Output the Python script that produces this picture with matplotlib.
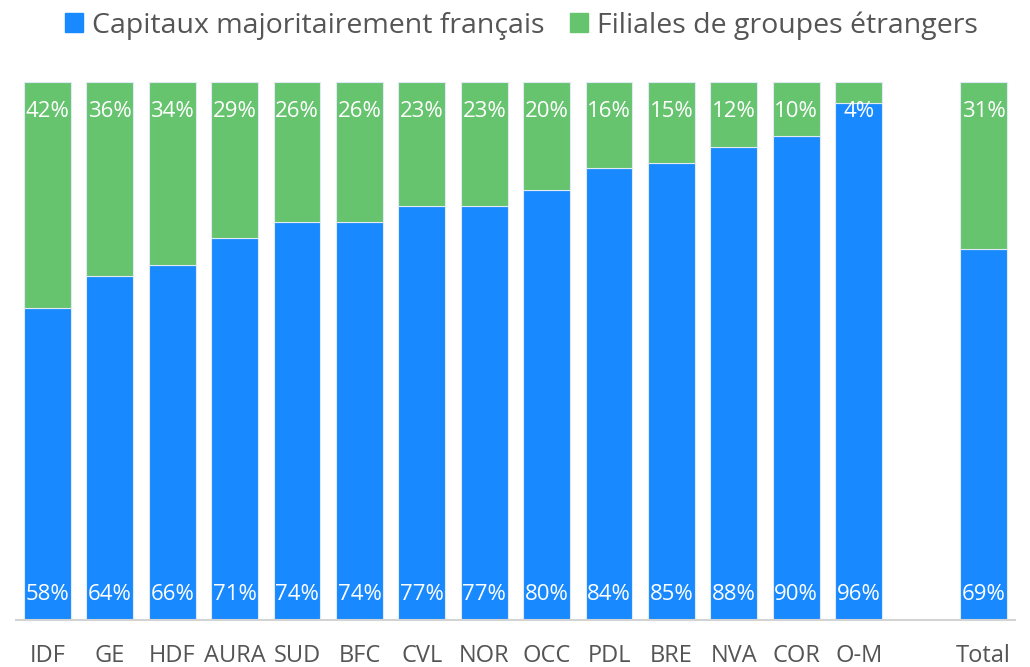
import numpy as np
import matplotlib
matplotlib.use("Agg")
import matplotlib.pyplot as plt
from matplotlib.patches import Patch

plt.rcParams['font.family'] = ['Open Sans', 'DejaVu Sans']

# Data (percent); the empty slot separates the regions from the total
categories = ['IDF', 'GE', 'HDF', 'AURA', 'SUD', 'BFC', 'CVL', 'NOR', 'OCC',
              'PDL', 'BRE', 'NVA', 'COR', 'O-M', '', 'Total']
francais = [58, 64, 66, 71, 74, 74, 77, 77, 80, 84, 85, 88, 90, 96, np.nan, 69]
etrangers = [42, 36, 34, 29, 26, 26, 23, 23, 20, 16, 15, 12, 10, 4, np.nan, 31]

blue = '#1889FF'
green = '#66C36E'
grey_text = '#555555'

fig = plt.figure(figsize=(10.3, 6.67), dpi=100)
ax = fig.add_axes([0.0158, 0.0705, 0.9693, 0.8066])

x = np.arange(len(categories))
fr = np.array(francais, dtype=float)
et = np.array(etrangers, dtype=float)
mask = ~np.isnan(fr)

ax.bar(x[mask], fr[mask], width=0.75, color=blue, edgecolor='#dfeaf5', linewidth=0.8)
ax.bar(x[mask], et[mask], width=0.75, bottom=fr[mask], color=green,
       edgecolor='#dfeaf5', linewidth=0.8)

# value labels: blue near the bottom, green near the top
for xi, f, e in zip(x[mask], fr[mask], et[mask]):
    ax.annotate(f'{f:.0f}%', (xi, 0), xytext=(0, 18.5), textcoords='offset points',
                ha='center', va='center', color='white', fontsize=16)
    ax.annotate(f'{e:.0f}%', (xi, 100), xytext=(0, -21.5), textcoords='offset points',
                ha='center', va='center', color='white', fontsize=16)

ax.set_xlim(-0.5, len(categories) - 0.5)
ax.set_ylim(0, 100)
ax.set_xticks(x)
ax.set_xticklabels(categories, fontsize=17, color=grey_text)
ax.tick_params(axis='x', length=0, pad=17)
ax.set_yticks([])
for s in ['top', 'right', 'left']:
    ax.spines[s].set_visible(False)
ax.spines['bottom'].set_color('#d3d3d3')
ax.spines['bottom'].set_linewidth(1.5)

handles = [Patch(color=blue), Patch(color=green)]
labels = ['Capitaux majoritairement français', 'Filiales de groupes étrangers']
fig.legend(handles, labels, loc='center', bbox_to_anchor=(0.506, 0.962), ncol=2,
           frameon=False, fontsize=20.5, labelcolor=grey_text,
           handlelength=0.65, handleheight=0.65, handletextpad=0.3, columnspacing=0.9)

fig.savefig('out.png', dpi=100)
